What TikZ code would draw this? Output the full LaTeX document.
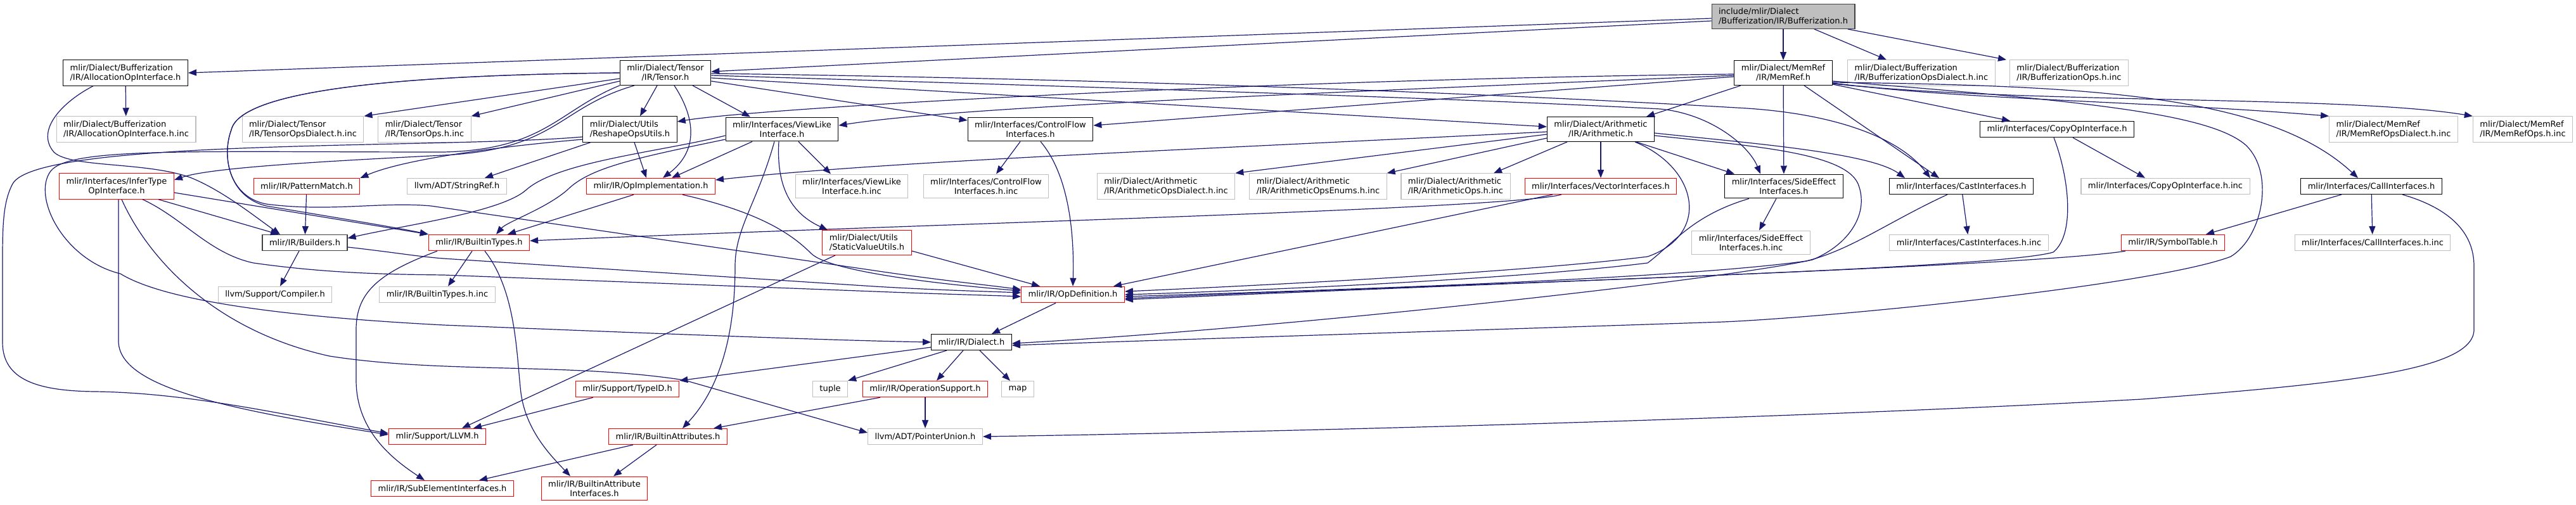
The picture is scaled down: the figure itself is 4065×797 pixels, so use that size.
\documentclass[tikz,border=0pt]{standalone}
\usepackage{fontspec}
\setmainfont{DejaVu Sans}
\usepackage{xcolor}
\usepackage{tikz}
\usetikzlibrary{arrows.meta}
\definecolor{dxEdge}{RGB}{25,25,112}
\definecolor{dxGrey}{RGB}{191,191,191}
\definecolor{dxRed}{RGB}{255,0,0}
\definecolor{dxDark}{RGB}{64,64,64}

\begin{document}
\begin{tikzpicture}[x=1pt,y=-1pt,
    hdr/.style={draw=black,line width=1.1pt,fill=white,inner xsep=11pt,inner ysep=6.4pt,
      minimum height=25pt,align=center,font=\fontsize{13pt}{15pt}\selectfont},
    rootbox/.style={fill=dxGrey,draw=dxDark},
    trunc/.style={draw=dxRed},
    ext/.style={draw=dxGrey},
    lft/.style={align=left},
    dep/.style={-{Triangle[length=13pt,width=10pt]},line width=1.2pt,draw=dxEdge}
  ]
  \useasboundingbox (0,0) rectangle (4065,797);

  \node[hdr,rootbox,lft] (root) at (2814,26) {include/mlir/Dialect\\/Bufferization/IR/Bufferization.h};

  \node[hdr,lft]     (allocif)    at (198,115)  {mlir/Dialect/Bufferization\\/IR/AllocationOpInterface.h};
  \node[hdr]         (tensor)     at (1050,115) {mlir/Dialect/Tensor\\/IR/Tensor.h};
  \node[hdr]         (memref)     at (2814,115) {mlir/Dialect/MemRef\\/IR/MemRef.h};
  \node[hdr,ext,lft] (bufdialinc) at (3032,115) {mlir/Dialect/Bufferization\\/IR/BufferizationOpsDialect.h.inc};
  \node[hdr,ext,lft] (bufopsinc)  at (3265,115) {mlir/Dialect/Bufferization\\/IR/BufferizationOps.h.inc};

  \node[hdr,ext,lft] (allocinc)      at (199,204)  {mlir/Dialect/Bufferization\\/IR/AllocationOpInterface.h.inc};
  \node[hdr,ext,lft] (tensordialinc) at (478,204)  {mlir/Dialect/Tensor\\/IR/TensorOpsDialect.h.inc};
  \node[hdr,ext,lft] (tensoropsinc)  at (670,204)  {mlir/Dialect/Tensor\\/IR/TensorOps.h.inc};
  \node[hdr,lft]     (reshape)       at (994,204)  {mlir/Dialect/Utils\\/ReshapeOpsUtils.h};
  \node[hdr]         (viewlike)      at (1234,204) {mlir/Interfaces/ViewLike\\Interface.h};
  \node[hdr]         (ctrlflow)      at (1626,204) {mlir/Interfaces/ControlFlow\\Interfaces.h};
  \node[hdr]         (arith)         at (2526,204) {mlir/Dialect/Arithmetic\\/IR/Arithmetic.h};
  \node[hdr]         (copyop)        at (3246,204) {mlir/Interfaces/CopyOpInterface.h};
  \node[hdr,ext,lft] (memrefdialinc) at (3777,204) {mlir/Dialect/MemRef\\/IR/MemRefOpsDialect.h.inc};
  \node[hdr,ext,lft] (memrefopsinc)  at (3981,204) {mlir/Dialect/MemRef\\/IR/MemRefOps.h.inc};

  \node[hdr,trunc]   (infertype)    at (184,294)  {mlir/Interfaces/InferType\\OpInterface.h};
  \node[hdr,trunc]   (patmatch)     at (484,294)  {mlir/IR/PatternMatch.h};
  \node[hdr,ext]     (stringref)    at (721,294)  {llvm/ADT/StringRef.h};
  \node[hdr,trunc]   (opimpl)       at (1027,294) {mlir/IR/OpImplementation.h};
  \node[hdr,ext]     (viewlikeinc)  at (1344,294) {mlir/Interfaces/ViewLike\\Interface.h.inc};
  \node[hdr,ext]     (ctrlflowinc)  at (1556,294) {mlir/Interfaces/ControlFlow\\Interfaces.h.inc};
  \node[hdr,ext,lft] (arithdialinc) at (1840,294) {mlir/Dialect/Arithmetic\\/IR/ArithmeticOpsDialect.h.inc};
  \node[hdr,ext,lft] (arithenuminc) at (2080,294) {mlir/Dialect/Arithmetic\\/IR/ArithmeticOpsEnums.h.inc};
  \node[hdr,ext,lft] (arithopsinc)  at (2297,294) {mlir/Dialect/Arithmetic\\/IR/ArithmeticOps.h.inc};
  \node[hdr,trunc]   (vectorif)     at (2526,294) {mlir/Interfaces/VectorInterfaces.h};
  \node[hdr]         (sideeff)      at (2815,294) {mlir/Interfaces/SideEffect\\Interfaces.h};
  \node[hdr]         (castif)       at (3095,294) {mlir/Interfaces/CastInterfaces.h};
  \node[hdr,ext]     (copyopinc)    at (3417,294) {mlir/Interfaces/CopyOpInterface.h.inc};
  \node[hdr]         (callif)       at (3742,294) {mlir/Interfaces/CallInterfaces.h};

  \node[hdr,draw=dxDark]   (builders)   at (481,383)  {mlir/IR/Builders.h};
  \node[hdr,trunc]     (btypes)     at (756,383)  {mlir/IR/BuiltinTypes.h};
  \node[hdr,trunc,lft] (staticval)  at (1368,383) {mlir/Dialect/Utils\\/StaticValueUtils.h};
  \node[hdr,ext]       (sideeffinc) at (2763,383) {mlir/Interfaces/SideEffect\\Interfaces.h.inc};
  \node[hdr,ext]       (castinc)    at (3107,383) {mlir/Interfaces/CastInterfaces.h.inc};
  \node[hdr,trunc]     (symtab)     at (3429,383) {mlir/IR/SymbolTable.h};
  \node[hdr,ext]       (callinc)    at (3744,383) {mlir/Interfaces/CallInterfaces.h.inc};

  \node[hdr,ext]   (compiler)  at (434,465)  {llvm/Support/Compiler.h};
  \node[hdr,ext]   (btypesinc) at (690,465)  {mlir/IR/BuiltinTypes.h.inc};
  \node[hdr,trunc] (opdef)     at (1693,465) {mlir/IR/OpDefinition.h};

  \node[hdr] (dialect) at (1533,540) {mlir/IR/Dialect.h};

  \node[hdr,trunc] (typeid)    at (990,614)  {mlir/Support/TypeID.h};
  \node[hdr,ext]   (tuplehdr)  at (1310,614) {tuple};
  \node[hdr,trunc] (opsupport) at (1460,614) {mlir/IR/OperationSupport.h};
  \node[hdr,ext]   (maphdr)    at (1606,614) {map};

  \node[hdr,trunc] (llvmh)    at (690,689)  {mlir/Support/LLVM.h};
  \node[hdr,trunc] (battrs)   at (1054,689) {mlir/IR/BuiltinAttributes.h};
  \node[hdr,ext]   (ptrunion) at (1460,689) {llvm/ADT/PointerUnion.h};

  \node[hdr,trunc] (subelem) at (698,771) {mlir/IR/SubElementInterfaces.h};
  \node[hdr,trunc] (battrif) at (938,771) {mlir/IR/BuiltinAttribute\\Interfaces.h};

  \draw[dep] ([yshift=-3pt]root.west) -- (allocif.east);
  \draw[dep] ([yshift=-7pt]root.west) -- ([yshift=2pt]tensor.east);
  \draw[dep] (root) -- (memref);
  \draw[dep] ([xshift=49pt]root.south) -- ([xshift=-55pt]bufdialinc.north);
  \draw[dep] ([xshift=102pt]root.south) -- ([xshift=-99pt]bufopsinc.north);

  \draw[dep] (allocif) -- (allocinc);
  \draw[dep] ([xshift=-51pt]allocif.south) .. controls (100,160) and (55,205) .. (85,240) .. controls (110,265) and (230,255) .. (300,280) .. controls (350,300) and (400,340) .. ([xshift=-39pt]builders.north);

  \draw[dep] ([yshift=-9pt]tensor.west) -- (tensordialinc.north east);
  \draw[dep] ([yshift=-13pt]tensor.west) -- (tensoropsinc.north east);
  \draw[dep] ([xshift=-13pt]tensor.south) -- ([xshift=16pt]reshape.north);
  \draw[dep] ([xshift=14pt]tensor.south) .. controls (1100,190) and (1100,240) .. ([xshift=19pt]opimpl.north);
  \draw[dep] ([xshift=43pt]tensor.south) -- ([xshift=-50pt]viewlike.north);
  \draw[dep] ([yshift=-13pt]tensor.east) -- ([yshift=14pt]ctrlflow.west);
  \draw[dep] ([yshift=-8pt]tensor.east) -- ([yshift=4pt]arith.west);
  \draw[dep] ([yshift=-1pt]tensor.east) .. controls (1800,125) and (2400,150) .. (2740,170) .. controls (2900,178) and (3000,220) .. ([xshift=-49pt]castif.north);
  \draw[dep] ([yshift=-4pt]tensor.east) .. controls (1800,140) and (2300,155) .. (2620,172) .. controls (2700,180) and (2760,230) .. ([xshift=-37pt]sideeff.north);
  \draw[dep] ([xshift=-49pt]tensor.south) .. controls (880,170) and (880,236) .. (700,245) .. controls (500,255) and (330,265) .. ([yshift=10pt]infertype.east);
  \draw[dep] (tensor.south west) .. controls (880,175) and (860,236) .. (700,240) .. controls (300,240) and (110,232) .. (80,270) .. controls (50,310) and (100,410) .. (190,432) .. controls (260,475) and (450,500) .. (700,513) .. controls (1000,525) and (1300,537) .. (dialect.west);
  \draw[dep] (tensor.west) .. controls (650,118) and (380,140) .. (365,205) .. controls (350,245) and (360,310) .. (420,325) .. controls (540,345) and (630,360) .. (btypes.north west);
  \draw[dep] (tensor.west) .. controls (650,118) and (380,140) .. (365,205) .. controls (350,245) and (360,310) .. (420,322) .. controls (520,335) and (600,318) .. (680,325) -- (1380,427) .. controls (1480,442) and (1560,450) .. ([yshift=8pt]opdef.west);

  \draw[dep] ([xshift=-62pt]reshape.south) -- ([xshift=44pt]stringref.north);
  \draw[dep] ([xshift=7pt]reshape.south) -- ([xshift=-7pt]opimpl.north);
  \draw[dep] ([yshift=-16pt]reshape.west) .. controls (800,230) and (640,250) .. (patmatch.north east);
  \draw[dep] ([yshift=-12pt]reshape.west) .. controls (700,235) and (60,218) .. (20,290) .. controls (4,320) and (4,360) .. (4,420) -- (4,540) .. controls (4,600) and (60,617) .. (150,618) .. controls (300,620) and (450,655) .. ([yshift=5pt]llvmh.west);

  \draw[dep] ([xshift=-47pt]viewlike.south) -- ([xshift=33pt]opimpl.north);
  \draw[dep] ([xshift=26pt]viewlike.south) -- ([xshift=-33pt]viewlikeinc.north);
  \draw[dep] ([xshift=-5pt]viewlike.south) .. controls (1225,290) and (1245,335) .. ([xshift=-62pt]staticval.north);
  \draw[dep] ([xshift=-12pt]viewlike.south) .. controls (1195,320) and (1160,360) .. (1160,420) .. controls (1160,560) and (1120,630) .. ([xshift=23pt]battrs.north);
  \draw[dep] ([yshift=-10pt]viewlike.west) .. controls (1040,240) and (880,255) .. (830,300) .. controls (790,335) and (640,355) .. ([yshift=7pt]builders.east);
  \draw[dep] ([yshift=-16pt]viewlike.west) .. controls (1000,250) and (930,265) .. (895,300) .. controls (860,330) and (800,350) .. ([xshift=27pt]btypes.north);

  \draw[dep] ([xshift=-16pt]ctrlflow.south) -- ([xshift=16pt]ctrlflowinc.north);
  \draw[dep] ([xshift=16pt]ctrlflow.south) .. controls (1690,280) and (1695,380) .. (opdef.north);

  \draw[dep] ([yshift=-4pt]arith.west) .. controls (1800,240) and (1400,255) .. ([yshift=10pt]opimpl.east);
  \draw[dep] ([yshift=-8pt]arith.west) -- (arithdialinc.north east);
  \draw[dep] ([yshift=-14pt]arith.west) -- (arithenuminc.north east);
  \draw[dep] ([xshift=-53pt]arith.south) -- ([xshift=60pt]arithopsinc.north);
  \draw[dep] (arith) -- (vectorif);
  \draw[dep] ([xshift=56pt]arith.south) -- ([xshift=-78pt]sideeff.north);
  \draw[dep] ([yshift=-6pt]arith.east) .. controls (2750,225) and (2950,240) .. ([xshift=-89pt]castif.north);
  \draw[dep] ([yshift=-10pt]arith.east) .. controls (2760,230) and (2910,240) .. (2932,290) .. controls (2950,335) and (2920,385) .. (2860,410) .. controls (2700,445) and (2000,520) .. ([yshift=-2pt]dialect.east);
  \draw[dep] ([xshift=54pt]arith.south) .. controls (2680,265) and (2700,370) .. (2600,405) .. controls (2400,430) and (2000,450) .. ([yshift=5pt]opdef.east);

  \draw[dep] ([xshift=-62pt]vectorif.south) .. controls (2380,330) and (1500,352) .. ([yshift=3pt]btypes.east);
  \draw[dep] ([xshift=-76pt]vectorif.south) -- ([xshift=64pt]opdef.north);

  \draw[dep] ([xshift=-12pt]sideeff.south) -- ([xshift=13pt]sideeffinc.north);
  \draw[dep] ([xshift=-55pt]sideeff.south) .. controls (2670,340) and (2640,385) .. (2600,415) .. controls (2400,440) and (2000,458) .. (opdef.east);

  \draw[dep] (castif) -- (castinc);
  \draw[dep] ([xshift=-22pt]castif.south) .. controls (2980,350) and (2920,395) .. (2850,412) .. controls (2650,440) and (2100,458) .. ([yshift=-3pt]opdef.east);

  \draw[dep] ([xshift=25pt]copyop.south) -- ([xshift=-32pt]copyopinc.north);
  \draw[dep] ([xshift=-5pt]copyop.south) .. controls (3265,280) and (3275,370) .. (3240,398) .. controls (3150,425) and (2300,448) .. ([yshift=-6pt]opdef.east);

  \draw[dep] ([xshift=-75pt]symtab.south) .. controls (3200,420) and (2400,445) .. ([yshift=-8pt]opdef.east);

  \draw[dep] ([xshift=-47pt]callif.south) -- ([xshift=52pt]symtab.north);
  \draw[dep] (callif) -- (callinc);
  \draw[dep] ([xshift=49pt]callif.south) .. controls (3870,330) and (3904,370) .. (3904,420) -- (3904,520) .. controls (3904,585) and (3700,605) .. (3380,630) .. controls (2800,662) and (2000,682) .. (ptrunion.east);

  \draw[dep] (memref) -- (sideeff);
  \draw[dep] ([xshift=33pt]memref.south) -- ([xshift=-35pt]castif.north);
  \draw[dep] ([yshift=-18pt]memref.east) -- ([xshift=-74pt]copyop.north);
  \draw[dep] ([yshift=-16pt]memref.east) .. controls (3100,158) and (3400,160) .. (memrefdialinc.north west);
  \draw[dep] ([yshift=-17pt]memref.east) .. controls (3200,165) and (3700,150) .. (memrefopsinc.north west);
  \draw[dep] ([yshift=-15pt]memref.east) .. controls (3300,135) and (3580,150) .. ([xshift=-21pt]callif.north);
  \draw[dep] ([yshift=-13pt]memref.east) .. controls (3300,160) and (3490,180) .. (3545,230) .. controls (3590,275) and (3570,375) .. (3520,405) .. controls (3400,450) and (2900,500) .. (2720,508) .. controls (2300,522) and (1850,536) .. ([yshift=-5pt]dialect.east);
  \draw[dep] ([xshift=-67pt]memref.south) -- ([xshift=72pt]arith.north);
  \draw[dep] ([yshift=-2pt]memref.west) .. controls (2000,125) and (1200,170) .. ([yshift=12pt]reshape.east);
  \draw[dep] ([yshift=-4pt]memref.west) .. controls (2000,150) and (1500,170) .. ([yshift=6pt]viewlike.east);
  \draw[dep] ([yshift=-6pt]memref.west) -- ([yshift=6pt]ctrlflow.east);

  \draw[dep] (patmatch) -- (builders);
  \draw[dep] ([xshift=-9pt]builders.south) -- ([xshift=8pt]compiler.north);
  \draw[dep] ([yshift=-7pt]builders.east) .. controls (620,398) and (660,405) .. (700,408) -- (1380,452) .. controls (1480,458) and (1560,460) .. ([yshift=3pt]opdef.west);

  \draw[dep] ([xshift=66pt]infertype.south) -- ([xshift=-41pt]builders.north);
  \draw[dep] ([yshift=-10pt]infertype.east) -- (btypes.north west);
  \draw[dep] ([xshift=41pt]infertype.south) .. controls (290,345) and (330,400) .. (400,415) .. controls (520,432) and (620,433) .. (700,434) -- (1380,460) .. controls (1480,464) and (1560,466) .. ([yshift=-3pt]opdef.west);
  \draw[dep] ([xshift=3pt]infertype.south) -- (187,540) .. controls (190,610) and (350,645) .. ([yshift=3pt]llvmh.west);
  \draw[dep] ([xshift=8pt]infertype.south) .. controls (230,400) and (330,520) .. (520,562) .. controls (700,590) and (900,572) .. (1080,600) -- ([yshift=6pt]ptrunion.west);

  \draw[dep] ([xshift=-27pt]opimpl.south) -- ([xshift=45pt]btypes.north);
  \draw[dep] ([xshift=50pt]opimpl.south) .. controls (1200,335) and (1250,370) .. (1280,400) .. controls (1310,430) and (1500,450) .. ([yshift=6pt]opdef.west);

  \draw[dep] ([yshift=-13pt]staticval.east) -- ([xshift=-52pt]opdef.north);
  \draw[dep] ([xshift=-50pt]staticval.south) -- ([xshift=39pt]llvmh.north);

  \draw[dep] ([xshift=-27pt]opdef.south) -- ([xshift=32pt]dialect.north);

  \draw[dep] ([xshift=-13pt]dialect.south) -- ([xshift=18pt]opsupport.north);
  \draw[dep] ([xshift=13pt]dialect.south) -- ([xshift=-12pt]maphdr.north);
  \draw[dep] ([xshift=-39pt]dialect.south) -- (tuplehdr.north east);
  \draw[dep] ([yshift=-8pt]dialect.west) -- (typeid.north east);

  \draw[dep] (opsupport) -- (ptrunion);
  \draw[dep] ([xshift=-71pt]opsupport.south) -- ([xshift=72pt]battrs.north);

  \draw[dep] ([xshift=-54pt]typeid.south) -- ([xshift=57pt]llvmh.north);

  \draw[dep] ([xshift=-55pt]battrs.south) -- ([xshift=58pt]subelem.north);
  \draw[dep] ([xshift=-18pt]battrs.south) -- ([xshift=30pt]battrif.north);

  \draw[dep] ([xshift=-11pt]btypes.south) -- ([xshift=17pt]btypesinc.north);
  \draw[dep] ([xshift=9pt]btypes.south) .. controls (815,460) and (815,560) .. (822,620) .. controls (830,680) and (870,720) .. ([xshift=-38pt]battrif.north);
  \draw[dep] ([xshift=-66pt]btypes.south) .. controls (600,430) and (562,460) .. (562,520) -- (562,600) .. controls (562,680) and (620,725) .. ([xshift=-28pt]subelem.north);
\end{tikzpicture}
\end{document}
